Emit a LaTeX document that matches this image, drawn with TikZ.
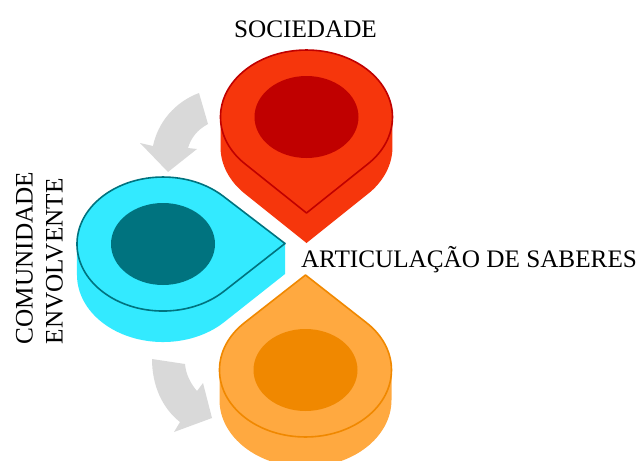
\documentclass[tikz,border=0pt]{standalone}
\usepackage{fontspec}
\setmainfont{Liberation Serif}
\usepackage{xcolor}
\definecolor{redbody}{HTML}{F6360C}
\definecolor{reddark}{HTML}{C00000}
\definecolor{cyanbody}{HTML}{33EAFF}
\definecolor{cyandark}{HTML}{00737F}
\definecolor{orangebody}{HTML}{FFA940}
\definecolor{orangedark}{HTML}{F08800}
\definecolor{flowgray}{HTML}{D9D9D9}

\begin{document}
\begin{tikzpicture}[
  x=1pt, y=-1pt,
  label/.style={font=\fontsize{25.2}{30}\selectfont, inner sep=0pt, align=left},
  flow/.style={fill=flowgray, draw=none},
  oval/.style={x radius=52, y radius=41},
  rim/.style={x radius=86, y radius=67},
  pinedge/.style={line width=1.6pt, line join=round}
]
  \clip (0,0) rectangle (638,461);

  % Sociedade pin (top)
  \fill[redbody] (220.5,117) -- (220.5,147) arc[start angle=180, end angle=135, rim]
    -- (306.5,243) -- (367.3,194.4) arc[start angle=45, end angle=0, rim] -- (392.5,117) -- cycle;
  \draw[pinedge, draw=reddark, fill=redbody] (367.3,164.4)
    arc[start angle=45, end angle=-225, rim] -- (306.5,213) -- cycle;
  \fill[reddark] (306.5,117) ellipse[oval];

  % Comunidade pin (left)
  \fill[cyanbody] (285,243) -- (285,274) -- (223.8,322.4)
    arc[start angle=45, end angle=180, rim] -- (77,244) -- cycle;
  \draw[pinedge, draw=cyandark, fill=cyanbody] (223.8,291.4)
    arc[start angle=45, end angle=315, rim] -- (285,243.5) -- cycle;
  \fill[cyandark] (163,244) ellipse[oval];

  % Saberes pin (bottom)
  \fill[orangebody] (219.5,370) -- (219.5,400) arc[start angle=180, end angle=0, rim]
    -- (391.5,370) -- cycle;
  \draw[pinedge, draw=orangedark, fill=orangebody] (366.3,322.6)
    arc[start angle=-45, end angle=225, rim] -- (305.5,275) -- cycle;
  \fill[orangedark] (305.5,370) ellipse[oval];

  % curved arrows
  \fill[flow] (199,93) -- (208,124) .. controls (197,130) and (191,138) .. (188,148)
    -- (197,149) -- (168,172) -- (140,143) -- (153,146)
    .. controls (158,122) and (175,102) .. (199,93) -- cycle;
  \fill[flow] (152,359) -- (185,364) .. controls (186,375) and (191,384) .. (197,391)
    -- (203,383) -- (212,418) -- (174,432) -- (180,422)
    .. controls (162,408) and (152,385) .. (152,359) -- cycle;

  % labels
  \node[label] (sociedade) at (305.5,29) {SOCIEDADE};
  \node[label] (saberes) at (469,260) {ARTICULAÇÃO DE SABERES};
  \node[label, rotate=90] (comunidade) at (39.5,258) {COMUNIDADE\\ENVOLVENTE};
\end{tikzpicture}
\end{document}
